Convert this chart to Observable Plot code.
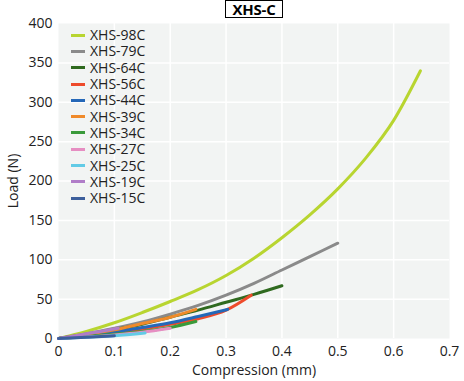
<!DOCTYPE html>
<html>
<head>
<meta charset="utf-8">
<script src="https://cdn.jsdelivr.net/npm/d3@7"></script>
<script src="https://cdn.jsdelivr.net/npm/@observablehq/plot@0.6"></script>
<style>
  body { margin: 0; background: #fff; font-family: "Open Sans", sans-serif; }
  #wrap { position: relative; width: 464px; height: 381px; }
  #title { position: absolute; left: 225px; top: 0px; width: 56px; height: 16px; border: 1.5px solid #000;
           font: bold 15px "Open Sans", sans-serif; line-height: 16px; text-align: center; color: #000; background:#fff; letter-spacing: -0.2px; overflow: visible; }
  #legend { position: absolute; left: 71px; top: 27px; font: 14px "Open Sans", sans-serif; color: #222; }
  .item { display: flex; align-items: center; height: 16.3px; line-height: 16px; }
  .sw { width: 14px; height: 3px; margin-right: 5px; }
</style>
</head>
<body>
<div id="wrap">
  <div id="chart"></div>
  <div id="title">XHS-C</div>
  <div id="legend"></div>
</div>
<script>
const seriesNames = ["XHS-98C","XHS-79C","XHS-64C","XHS-56C","XHS-44C","XHS-39C","XHS-34C","XHS-27C","XHS-25C","XHS-19C","XHS-15C"];
const seriesColors = ["#b8d530","#8a8a8a","#2f6a1f","#ee4b2b","#2568b8","#f08a2a","#3a9a3a","#e68ec2","#62cbe6","#b07dc8","#3d5f9c"];

const x98 = [0,0.05,0.1,0.15,0.2,0.25,0.3,0.35,0.4,0.45,0.5,0.55,0.6,0.648];
const y98 = [0,9,20,33,47,62,80,102,128,157,190,229,277,340];
const x79 = [0,0.05,0.1,0.15,0.2,0.25,0.3,0.35,0.4,0.45,0.5];
const y79 = [0,6,13,21,31,42,55,70,87,104,121];
const x64 = [0,0.05,0.1,0.15,0.2,0.25,0.3,0.35,0.4];
const y64 = [0,5,11,18,27,36,46,56,67];
const x56 = [0,0.05,0.1,0.15,0.2,0.25,0.3,0.345];
const y56 = [0,3,7,12,18,25,36,55];
const x44 = [0,0.05,0.1,0.15,0.2,0.25,0.303];
const y44 = [0,3.5,8,14,20,28,37];
const x39 = [0,0.05,0.1,0.15,0.2,0.246];
const y39 = [0,5,11,19,27,37];
const x34 = [0,0.05,0.1,0.15,0.2,0.246];
const y34 = [0,2.5,5.5,9,14,21.5];
const x27 = [0,0.05,0.1,0.15,0.2];
const y27 = [0,2,4.5,8,13];
const x25 = [0,0.05,0.1,0.155];
const y25 = [0,1.5,3.5,7];
const x19 = [0,0.025,0.05,0.075,0.107];
const y19 = [0,3,6,9,13];
const x15 = [0,0.05,0.1];
const y15 = [0,1.5,3.5];

const xTicks = [0,0.1,0.2,0.3,0.4,0.5,0.6,0.7];
const yTicks = [0,50,100,150,200,250,300,350,400];

const xs = [x98,x79,x64,x56,x44,x39,x34,x27,x25,x19,x15];
const ys = [y98,y79,y64,y56,y44,y39,y34,y27,y25,y19,y15];
const data = [];
seriesNames.forEach((name, i) => xs[i].forEach((x, j) => data.push({series: name, x, y: ys[i][j]})));

const fmtX = d => d === 0 ? "0" : d3.format(".1f")(d);
const chart = Plot.plot({
  width: 464, height: 381,
  marginLeft: 58, marginRight: 15, marginTop: 23, marginBottom: 43,
  style: {fontFamily: "Open Sans, sans-serif", fontSize: "14px", color: "#222", background: "#fff"},
  x: {domain: [0, 0.7]},
  y: {domain: [0, 400]},
  color: {domain: seriesNames, range: seriesColors},
  marks: [
    Plot.frame({fill: "#f2f4f3", stroke: null}),
    Plot.gridX(xTicks.slice(1, -1), {stroke: "#fff", strokeOpacity: 1, strokeWidth: 1.5}),
    Plot.gridY(yTicks.slice(1, -1), {stroke: "#fff", strokeOpacity: 1, strokeWidth: 1.5}),
    Plot.axisX({ticks: xTicks, tickSize: 0, tickPadding: 8, tickFormat: fmtX, label: "Compression (mm)", labelAnchor: "center", labelOffset: 36, labelArrow: "none"}),
    Plot.axisY({ticks: yTicks, tickSize: 0, tickPadding: 6, label: "Load (N)", labelAnchor: "center", labelOffset: 50, labelArrow: "none"}),
    Plot.line(data, {x: "x", y: "y", z: "series", stroke: "series", strokeWidth: 3, curve: "monotone-x", strokeLinecap: "round"})
  ]
});
document.getElementById("chart").appendChild(chart);

const legend = document.getElementById("legend");
seriesNames.forEach((n, i) => {
  const it = document.createElement("div"); it.className = "item";
  const sw = document.createElement("div"); sw.className = "sw"; sw.style.background = seriesColors[i];
  const t = document.createElement("span"); t.textContent = n;
  it.appendChild(sw); it.appendChild(t); legend.appendChild(it);
});
</script>
</body>
</html>
